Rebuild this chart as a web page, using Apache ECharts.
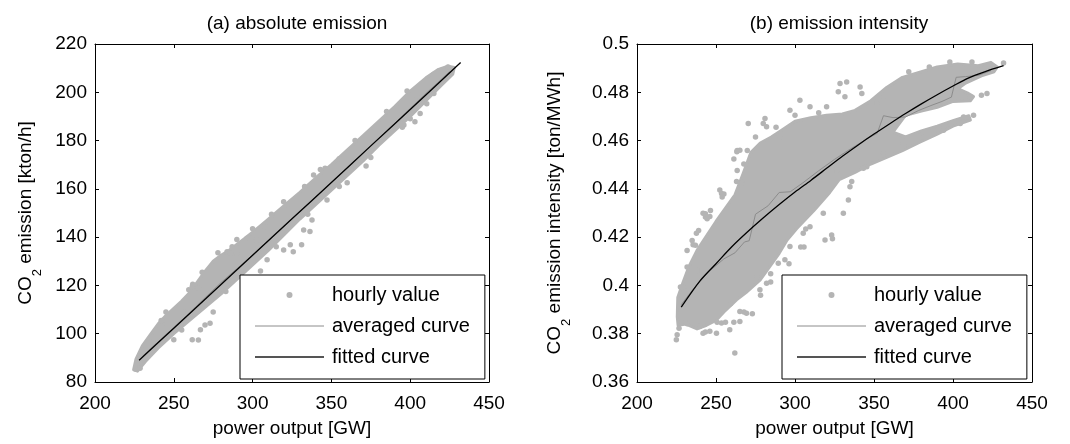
<!DOCTYPE html>
<html>
<head>
<meta charset="utf-8">
<script src="https://cdn.jsdelivr.net/npm/echarts@6/dist/echarts.min.js"></script>
<style>html,body{margin:0;padding:0;background:#fff}#c{width:1070px;height:444px}</style>
</head>
<body>
<div id="c"></div>
<script>
// ---------------- DATA ----------------
const xTicks = [200, 250, 300, 350, 400, 450];
const leftYTicks = [80, 100, 120, 140, 160, 180, 200, 220];
const rightYTicks = [0.36, 0.38, 0.4, 0.42, 0.44, 0.46, 0.48, 0.5];
const legendNames = ['hourly value', 'averaged curve', 'fitted curve'];
const titles = ['(a) absolute emission', '(b) emission intensity'];

// (a) dense core of hourly values (outline of the solid grey band)
const leftCore = [
  [224.5,85],[226,89.5],[230,95],[235,99.5],[240,104],[245,107.5],[250,110.5],[255,113.5],[260,117],
  [265,121.5],[270,126],[275,130],[280,132.5],[285,134.5],[290,137],[295,139.5],[300,142],[310,147.5],
  [320,153],[330,158.5],[340,164.5],[350,170],[360,176],[370,182],[380,188],[390,194],[400,200.5],
  [410,206],[418,209.5],[424,210.8],[428,210.3],
  [427,207.5],[420,203],[410,196.5],[400,190],[390,184],[380,178],[370,171.5],[360,165.5],[350,159.5],
  [340,153.5],[330,147.5],[320,141],[310,134.5],[300,128.5],[290,122.5],[280,116.5],[270,111],
  [260,105.5],[250,100],[240,94],[232,88.5],[227,84.5]
];
// (a) scattered hourly values outside the dense core
const leftPoints = [
  [225.8,85.4],[226.8,87.8],[228.6,85.7],[229,90.5],[236,98.5],[242,105.5],[246,104],[250,97.5],
  [254,111.5],[256,109.1],[259.5,118.2],[261.7,119.5],[265.6,118.8],[261.7,97.5],[265.6,97.4],
  [266.9,101.6],[269.8,103.6],[273,104.3],[275,109],[283.8,134],[285.9,133.3],[289.9,133.3],
  [290,139],[296.5,139.5],[300,143.5],[302.6,138.8],[307.9,144.3],[305,126],[309.2,130.6],
  [319.7,154.7],[321.8,153.3],[319.7,134.7],[323.9,136.8],[325.8,134],[331.1,136.8],[332.4,143],
  [336.4,142.3],[337.7,147.1],[338.7,165.7],[343,168],[347.2,155.4],[355,172.5],[360,162.5],
  [372,169.5],[393.6,187],[396,186.4],[400,189],[403,187.8],[406.3,191.2],[402,192.6],[410.5,195.3],
  [403,196.7],[410.5,199.5],[407,198],[415,207.5],[420,209],[424,210.5],
  [245,109],[262,120.5],[268,125.5],[278,133.5],[287,136],[312,149.5],[333,161],[346,168.5],
  [365,180],[385,192],[398,200.5],[255,101.5],[283,117.5],[315,136],[335,149.5],[355,161],
  [375,173],[395,185.5],[415,199.5]
];
const leftAveraged = [
  [230,90.6],[240,96.6],[250,102.6],[260,108.6],[270,115],[280,121.2],[290,126.9],[300,132.6],
  [310,138.4],[320,144.4],[330,150.6],[340,156.7],[350,162.6],[360,168.6],[370,174.7],[380,180.9],
  [390,187],[400,193.3],[410,199.5],[420,205.5],[425,208.6]
];
const leftFitted = [
  [228,89],[250,102.3],[275,117.4],[300,132.5],[325,147.6],[350,162.6],[375,177.8],[400,192.9],[432,212.3]
];

// (b) dense core of hourly values
const rightCore = [
  [225.5,0.387],[225.8,0.395],[229,0.401],[233,0.408],[238,0.4145],[243,0.4195],[250,0.4265],
  [256,0.432],[262,0.4375],[267,0.446],[272,0.455],[278,0.459],[285,0.4615],[292,0.4645],[300,0.468],
  [310,0.4695],[320,0.4705],[330,0.471],[338,0.4725],[348,0.4765],[358,0.482],[368,0.4862],
  [379,0.4883],[390,0.4905],[403,0.4917],[416,0.491],[424,0.4924],[428,0.4905],[426,0.4885],
  [418,0.4868],[408,0.4838],[403,0.4815],[409,0.4798],[413,0.4782],[411,0.4765],[400,0.4762],
  [390,0.4738],[380,0.4722],[370,0.4705],[362,0.4635],[370,0.4615],[380,0.464],[390,0.466],
  [400,0.4682],[410,0.4703],[411,0.4685],[400,0.466],[390,0.4627],[379,0.4593],[368,0.4558],
  [358,0.453],[348,0.4503],[338,0.4468],[328,0.4438],[322,0.4385],[312,0.431],[301,0.4235],
  [295,0.4188],[290,0.4133],[284,0.4078],[278,0.4023],[269,0.397],[263,0.394],[255,0.389],
  [250,0.3855],[244,0.3835],[238,0.382],[231,0.384],[226,0.3835]
];
// (b) scattered hourly values outside the dense core
const rightPoints = [
  [261.9,0.372],[224.9,0.3775],[225.4,0.3796],[226.6,0.3823],[241.8,0.3802],[239.7,0.383],
  [246.1,0.381],[253.5,0.3844],[250.3,0.3802],[265.1,0.3892],[269.3,0.3885],[265.1,0.3851],
  [258.7,0.3816],[277.8,0.3982],[282,0.4009],[275.7,0.4037],[293.6,0.4106],[289.4,0.4092],
  [319,0.4188],[323.2,0.4209],[330.6,0.4299],[333.8,0.4354],[335.9,0.443],[326.4,0.4478],
  [345.4,0.4492],[263.2,0.4554],[265.1,0.456],[253.5,0.4381],[252.4,0.4395],[246.1,0.4285],
  [241.8,0.4299],[235.5,0.4168],[237.6,0.4216],[263,0.443],[270.4,0.4671],[279.9,0.4671],
  [282,0.4657],[281,0.4691],[290.4,0.4616],[296.8,0.4726],[303.1,0.4767],[309.5,0.474],
  [320,0.474],[328.5,0.4836],[332.7,0.4843],[327.4,0.4802],[331.6,0.4781],[341.2,0.4822],
  [342.3,0.4795],[351.7,0.4753],[356,0.4781],[421.5,0.4795],[418,0.4788],[411,0.4781],
  [406.7,0.4698],[413,0.4705],[432,0.4921],[263.4,0.4559],[261.3,0.4524],[266.6,0.4428],
  [255,0.4379],[253.9,0.4366],[246.5,0.431],[244.4,0.4276],[243.3,0.4283],[237,0.4166],
  [238,0.4062],[231.7,0.4076],[229.6,0.3993],[230.7,0.3848],[231.7,0.3841],[243.3,0.3807],
  [250.7,0.3848],[256,0.3848],[261.3,0.3848],[259.2,0.3924],[267.7,0.389],[273,0.3883],
  [278.2,0.3959],[284.6,0.4014],[284.6,0.4048],[296.2,0.409],[303.6,0.4159],[306.8,0.4234],
  [323.7,0.4193],[305.7,0.4159],
  [243.3,0.4297],[239,0.4228],[234.9,0.4186],[231.7,0.4145],[227.5,0.3993],[265.5,0.442],
  [263.4,0.4476],[267.6,0.4503],[269.8,0.4559],[334.8,0.4409],[343.3,0.4485],[356,0.4547],
  [368.6,0.4588],[381.3,0.4616],[394,0.4643],[404.6,0.4671],[317.9,0.4299],[309.5,0.4243],
  [305.2,0.4216],[296.8,0.4161],[275,0.4615],[288,0.4655],[300,0.4705],[315,0.4715],
  [372,0.4885],[385,0.4905],[398,0.4925],[412,0.4925]
];
const rightAveraged = [
  [228,0.392],[235,0.398],[245,0.4055],[255,0.411],[262,0.4135],[268,0.418],[271,0.4185],
  [275,0.4295],[283,0.433],[290,0.4385],[297,0.4388],[305,0.4425],[315,0.4475],[325,0.4522],
  [335,0.4565],[345,0.4605],[352,0.463],[356,0.4703],[362,0.4695],[370,0.4698],[378,0.4724],
  [386,0.4745],[393,0.4762],[399,0.478],[402,0.4862],[408,0.4865],[416,0.487],[424,0.489]
];
const rightFitted = [
  [228,0.391],[240,0.402],[250,0.409],[260,0.416],[270,0.4222],[280,0.428],[290,0.4335],
  [300,0.4387],[310,0.4435],[320,0.4485],[330,0.4535],[340,0.4582],[350,0.4627],[360,0.467],
  [370,0.4712],[380,0.4752],[390,0.479],[400,0.4826],[410,0.486],[420,0.4885],[432,0.491]
];

// ---------------- STYLE ----------------
const FONT = "'Liberation Sans', Arial, Helvetica, sans-serif";
const GRAY = '#b4b4b4';
const FS = 19;

function coreRender(params, api) {
  if (params.dataIndex !== 0) return null;
  const n = params.dataInsideLength;
  const pts = [];
  for (let i = 0; i < n; i++) pts.push(api.coord([api.value(0, i), api.value(1, i)]));
  return {
    type: 'polygon',
    shape: { points: pts },
    style: { fill: GRAY, stroke: GRAY, lineWidth: 3, lineJoin: 'round' }
  };
}

function xAxes(gi) {
  return [
    { gridIndex: gi, type: 'value', min: xTicks[0], max: xTicks[xTicks.length - 1], interval: 50,
      position: 'bottom',
      axisLine: { show: true, lineStyle: { color: '#000', width: 1 } },
      axisTick: { show: true, inside: true, length: 4, lineStyle: { color: '#000' } },
      axisLabel: { color: '#000', fontSize: FS, fontFamily: FONT, margin: 12 },
      splitLine: { show: false },
      name: 'power output [GW]', nameLocation: 'middle', nameGap: 37,
      nameTextStyle: { color: '#000', fontSize: FS, fontFamily: FONT } },
    { gridIndex: gi, type: 'value', min: xTicks[0], max: xTicks[xTicks.length - 1], interval: 50,
      position: 'top',
      axisLine: { show: true, lineStyle: { color: '#000', width: 1 } },
      axisTick: { show: true, inside: true, length: 4, lineStyle: { color: '#000' } },
      axisLabel: { show: false }, splitLine: { show: false } }
  ];
}

function yAxes(gi, ticks, nameRich, gap, fmt) {
  const step = +(ticks[1] - ticks[0]).toFixed(4);
  return [
    { gridIndex: gi, type: 'value', min: ticks[0], max: ticks[ticks.length - 1], interval: step,
      position: 'left',
      axisLine: { show: true, lineStyle: { color: '#000', width: 1 } },
      axisTick: { show: true, inside: true, length: 4, lineStyle: { color: '#000' } },
      axisLabel: { color: '#000', fontSize: FS, fontFamily: FONT, margin: 8, formatter: fmt },
      splitLine: { show: false },
      name: nameRich, nameLocation: 'middle', nameGap: gap,
      nameTextStyle: { color: '#000', fontSize: FS, fontFamily: FONT,
        rich: {
          n: { fontSize: FS, fontFamily: FONT, color: '#000', verticalAlign: 'bottom', lineHeight: 24 },
          s: { fontSize: 13, fontFamily: FONT, color: '#000', verticalAlign: 'bottom', lineHeight: 24, padding: [0, 0, -9, 0] }
        } } },
    { gridIndex: gi, type: 'value', min: ticks[0], max: ticks[ticks.length - 1], interval: step,
      position: 'right',
      axisLine: { show: true, lineStyle: { color: '#000', width: 1 } },
      axisTick: { show: true, inside: true, length: 4, lineStyle: { color: '#000' } },
      axisLabel: { show: false }, splitLine: { show: false } }
  ];
}

function seriesFor(gi, core, pts, avg, fit) {
  const xi = gi * 2, yi = gi * 2;
  return [
    { type: 'custom', name: 'hourly value core', xAxisIndex: xi, yAxisIndex: yi,
      renderItem: coreRender, data: core, z: 1, silent: true, clip: true },
    { type: 'scatter', name: legendNames[0], xAxisIndex: xi, yAxisIndex: yi,
      data: pts, symbol: 'circle', symbolSize: 5.5, itemStyle: { color: GRAY, opacity: 1 }, z: 2, silent: true },
    { type: 'line', name: legendNames[1], xAxisIndex: xi, yAxisIndex: yi, data: avg,
      symbol: 'none', lineStyle: { color: '#8c8c8c', width: 1 }, itemStyle: { color: '#8c8c8c' }, z: 3, silent: true },
    { type: 'line', name: legendNames[2], xAxisIndex: xi, yAxisIndex: yi, data: fit,
      symbol: 'none', smooth: 0.3, lineStyle: { color: '#000', width: 1.3 }, itemStyle: { color: '#000' }, z: 4, silent: true }
  ];
}

function legendAt(left) {
  return {
    orient: 'vertical', left: left, top: 275, selectedMode: false,
    itemWidth: 69, itemHeight: 6, itemGap: 11,
    padding: [10, 15, 12, 14],
    borderColor: '#000', borderWidth: 1, backgroundColor: '#fff', borderRadius: 0,
    textStyle: { color: '#000', fontSize: 20, fontFamily: FONT, lineHeight: 20, padding: [0, 0, 0, 3] },
    data: [
      { name: legendNames[0], icon: 'circle', itemStyle: { color: GRAY } },
      { name: legendNames[1], itemStyle: { color: 'rgba(0,0,0,0)', opacity: 0 }, lineStyle: { color: '#8c8c8c', width: 1 } },
      { name: legendNames[2], itemStyle: { color: 'rgba(0,0,0,0)', opacity: 0 }, lineStyle: { color: '#555', width: 2 } }
    ]
  };
}

const chart = echarts.init(document.getElementById('c'), null, { renderer: 'canvas' });
chart.setOption({
  animation: false,
  backgroundColor: '#fff',
  title: [
    { text: titles[0], left: 292, top: 9, textAlign: 'center',
      textStyle: { color: '#000', fontSize: FS, fontWeight: 'normal', fontFamily: FONT } },
    { text: titles[1], left: 834, top: 9, textAlign: 'center',
      textStyle: { color: '#000', fontSize: FS, fontWeight: 'normal', fontFamily: FONT } }
  ],
  grid: [
    { left: 95, top: 44, width: 394, height: 338 },
    { left: 637, top: 44, width: 395, height: 338 }
  ],
  xAxis: [].concat(xAxes(0), xAxes(1)),
  yAxis: [].concat(
    yAxes(0, leftYTicks, '{n|CO}{s|2}{n| emission [kton/h]}', 60, v => String(v)),
    yAxes(1, rightYTicks, '{n|CO}{s|2}{n| emission intensity [ton/MWh]}', 73, v => String(+v.toFixed(2)))
  ),
  legend: [legendAt(240), legendAt(782)],
  series: [].concat(
    seriesFor(0, leftCore, leftPoints, leftAveraged, leftFitted),
    seriesFor(1, rightCore, rightPoints, rightAveraged, rightFitted)
  )
});
</script>
</body>
</html>
